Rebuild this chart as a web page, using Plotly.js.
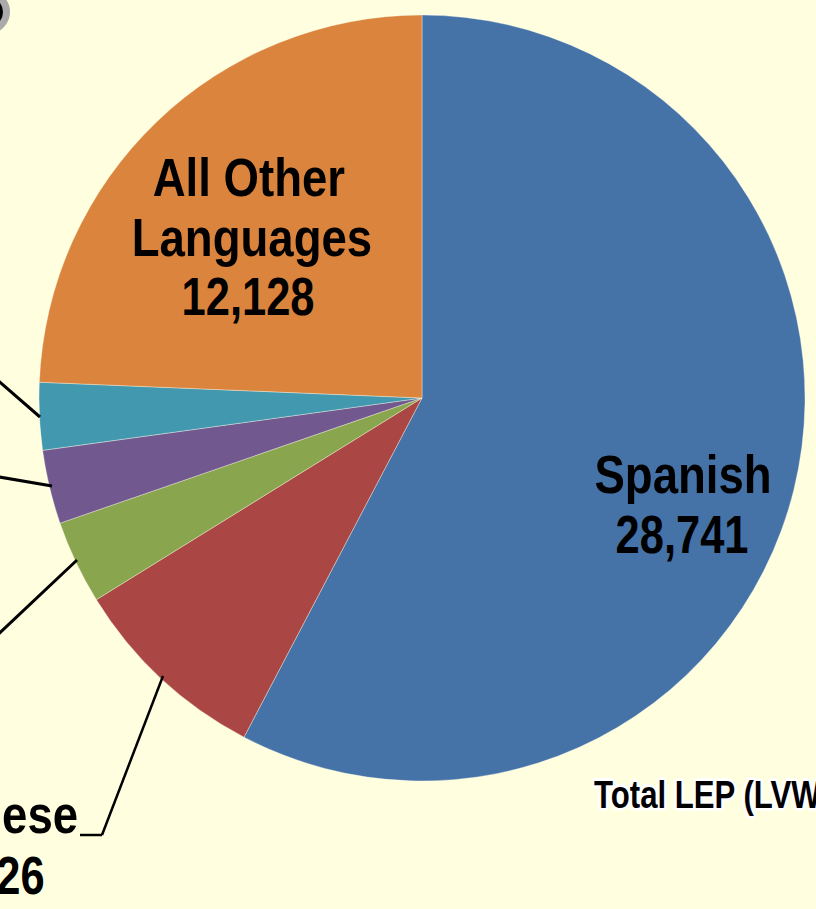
<!DOCTYPE html>
<html><head><meta charset="utf-8">
<script src="https://cdn.plot.ly/plotly-3.0.1.min.js"></script>
<style>
html,body{margin:0;padding:0;width:816px;height:909px;overflow:hidden;background:#FFFFE0;}
#chart{position:absolute;left:-400px;top:0;width:1300px;height:909px;}
</style></head><body><div id="chart"></div>
<script>
// ---- data ----
const languages = ["Spanish", "Chinese", "Tagalog", "Vietnamese", "Korean", "All Other Languages"];
const counts = [28741, 4226, 1757, 1552, 1414, 12128];
const sliceColors = ["#4572A7", "#AA4643", "#89A54E", "#71588F", "#4198AF", "#DB843D"];
const totalTitle = "Total LEP (LVW)";

// ---- layout helpers (figure is wider than the window and shifted left) ----
const OFFX = 400, W = 1300, H = 909;
const px = x => (x + OFFX) / W;
const py = y => (H - y) / H;
const fmt = n => n.toLocaleString('en-US');
const FONT = '"Liberation Sans Narrow", "Arial Narrow", "Liberation Sans", Arial, sans-serif';
const WORD_SQUEEZE = 0.86, NUM_SQUEEZE = 0.82;   // imitate a narrow bold face

const cx = 422, cy = 398, R = 383;

const pie = {
  type: 'pie',
  labels: languages,
  values: counts,
  sort: false,
  direction: 'clockwise',
  rotation: 0,
  textinfo: 'none',
  hoverinfo: 'label+value',
  marker: {colors: sliceColors, line: {color: 'rgba(255,255,240,0.6)', width: 0.6}},
  domain: {x: [px(cx - R), px(cx + R)], y: [py(cy + R), py(cy - R)]},
  showlegend: false
};

const squeeze = [];
function ann(text, x, y, xanchor, size, sq, extra) {
  squeeze.push(sq);
  return Object.assign({
    text: text, xref: 'paper', yref: 'paper', x: px(x), y: py(y),
    xanchor: xanchor, yanchor: 'middle', showarrow: false,
    font: {family: FONT, size: size, color: '#000', weight: 700}
  }, extra || {});
}

const S = 53;
const total = counts.reduce((a, b) => a + b, 0);
const annotations = [
  // inside labels
  ann(languages[0], 683, 474, 'center', S, WORD_SQUEEZE),
  ann(fmt(counts[0]), 682, 534, 'center', S, NUM_SQUEEZE),
  ann("All Other", 249, 177, 'center', S, WORD_SQUEEZE),
  ann("Languages", 252, 237, 'center', S, WORD_SQUEEZE),
  ann(fmt(counts[5]), 248, 297, 'center', S, NUM_SQUEEZE),
  // outside labels (left side, mostly outside the window)
  ann(languages[1], 80, 814, 'right', S, WORD_SQUEEZE),
  ann(fmt(counts[1]), 47, 875, 'right', S, NUM_SQUEEZE),
  ann(languages[2], -60, 690, 'right', S, WORD_SQUEEZE),
  ann(fmt(counts[2]), -90, 750, 'right', S, NUM_SQUEEZE),
  ann(languages[3], -60, 470, 'right', S, WORD_SQUEEZE),
  ann(fmt(counts[3]), -100, 530, 'right', S, NUM_SQUEEZE),
  ann(languages[4], -60, 320, 'right', S, WORD_SQUEEZE),
  ann(fmt(counts[4]), -100, 380, 'right', S, NUM_SQUEEZE),
  // total
  ann(totalTitle + ": " + fmt(total), 592, 795, 'left', 38, NUM_SQUEEZE,
      {font: {family: FONT, size: 38, color: '#000', weight: 700,
              shadow: '2px 2px 0 #fff, -2px -2px 0 #fff, 2px -2px 0 #fff, -2px 2px 0 #fff, 0 3px 0 #fff, 3px 0 0 #fff, 0 -3px 0 #fff, -3px 0 0 #fff'}})
];

function seg(x0, y0, x1, y1, w) {
  return {type: 'line', xref: 'paper', yref: 'paper', x0: px(x0), y0: py(y0), x1: px(x1), y1: py(y1),
          line: {color: '#000', width: w}};
}
const shapes = [
  seg(-30, 356, 40, 417, 3),
  seg(-30, 472, 52, 486, 3),
  seg(-30, 661, 77, 560, 3),
  seg(163, 676, 102, 835, 2.5),
  seg(102, 835, 80, 835, 2.5),
  // small badge at top-left corner
  {type: 'circle', xref: 'paper', yref: 'paper',
   x0: px(-12 - 18.5), x1: px(-12 + 18.5), y0: py(12 + 18.5), y1: py(12 - 18.5),
   fillcolor: '#000', line: {color: '#AAAAAA', width: 7}}
];

const layout = {
  width: W, height: H,
  margin: {l: 0, r: 0, t: 0, b: 0},
  paper_bgcolor: '#FFFFE0', plot_bgcolor: '#FFFFE0',
  annotations: annotations, shapes: shapes,
  showlegend: false
};
Plotly.newPlot('chart', [pie], layout, {displayModeBar: false, staticPlot: true}).then(() => {
  document.querySelectorAll('#chart g.annotation').forEach(g => {
    const i = +g.getAttribute('data-index');
    const t = g.querySelector('text.annotation-text');
    if (!t) return;
    const b = t.getBBox();
    const xa = annotations[i].xanchor;
    const ax = xa === 'left' ? b.x : (xa === 'right' ? b.x + b.width : b.x + b.width / 2);
    const prev = t.getAttribute('transform') || '';
    t.setAttribute('transform', prev + ` translate(${ax},0) scale(${squeeze[i]},1) translate(${-ax},0)`);
  });
});
</script></body></html>
